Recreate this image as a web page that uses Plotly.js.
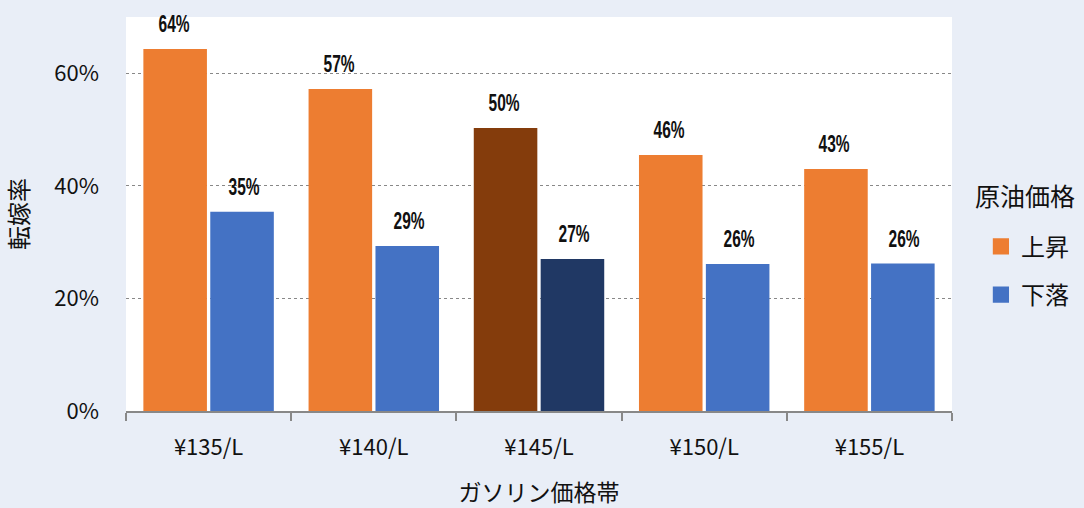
<!DOCTYPE html>
<html><head><meta charset="utf-8">
<script src="https://cdn.plot.ly/plotly-3.0.1.min.js"></script>
<style>html,body{margin:0;padding:0;background:#E9EEF7;}</style>
</head><body>
<div id="chart" style="width:1084px;height:508px;"></div>
<script>
const categories = ["¥135/L", "¥140/L", "¥145/L", "¥150/L", "¥155/L"];
const riseValues = [64.3, 57.2, 50.3, 45.5, 43.0];
const fallValues = [35.4, 29.3, 27.0, 26.1, 26.2];
const riseLabels = ["64%", "57%", "50%", "46%", "43%"];
const fallLabels = ["35%", "29%", "27%", "26%", "26%"];
const seriesNames = ["上昇", "下落"];
const legendTitle = "原油価格";
const highlightIndex = 2;

const riseColors = categories.map((c, i) => i === highlightIndex ? "#843C0C" : "#ED7D31");
const fallColors = categories.map((c, i) => i === highlightIndex ? "#203864" : "#4472C4");

const jp = '"Noto Sans CJK JP", "Noto Sans", sans-serif';
const labelFont = '"Liberation Sans", Arial, sans-serif';

const traces = [
  {type: "bar", name: seriesNames[0], x: categories, y: riseValues, legendgroup: "a",
   marker: {color: riseColors, line: {width: 0}}, hoverinfo: "skip"},
  {type: "bar", name: seriesNames[1], x: categories, y: fallValues, legendgroup: "b",
   marker: {color: fallColors, line: {width: 0}}, hoverinfo: "skip"}
];

const annotations = [];
categories.forEach((c, i) => {
  annotations.push({x: c, y: riseValues[i], xref: "x", yref: "y", text: riseLabels[i], showarrow: false,
    xshift: -35, yanchor: "bottom", yshift: 10, font: {family: labelFont, size: 24, weight: 700, color: "#111"}});
  annotations.push({x: c, y: fallValues[i], xref: "x", yref: "y", text: fallLabels[i], showarrow: false,
    xshift: 35, yanchor: "bottom", yshift: 10, font: {family: labelFont, size: 24, weight: 700, color: "#111"}});
});
annotations.push({xref: "paper", yref: "paper", x: 1.026, y: 0.548, xanchor: "left", yanchor: "middle",
  text: legendTitle, showarrow: false, font: {family: jp, size: 25, color: "#111"}});

const layout = {
  width: 1084, height: 508,
  paper_bgcolor: "#E9EEF7", plot_bgcolor: "#FFFFFF",
  margin: {l: 126, r: 132, t: 17, b: 97, autoexpand: false},
  barmode: "group", bargap: 0.19, bargroupgap: 0.05,
  font: {family: jp, size: 22, color: "#111"},
  xaxis: {
    type: "category", showgrid: false, showline: true, linecolor: "#888", linewidth: 2,
    ticks: "outside", tickson: "boundaries", ticklen: 8, tickcolor: "#888", tickwidth: 2,
    ticklabelstandoff: 16,
    tickfont: {family: jp, size: 22, color: "#111"},
    title: {text: "ガソリン価格帯", font: {family: jp, size: 23, color: "#111"}, standoff: 29}
  },
  yaxis: {
    range: [0, 70], tickvals: [0, 20, 40, 60], ticktext: ["0%", "20%", "40%", "60%"],
    showgrid: true, gridcolor: "#888", griddash: "dot", gridwidth: 1, zeroline: false, showline: false,
    ticks: "", ticklabelstandoff: 26,
    tickfont: {family: jp, size: 22, color: "#111"},
    title: {text: "転嫁率", font: {family: jp, size: 24, color: "#111"}, standoff: 21}
  },
  legend: {
    x: 1.035, xanchor: "left", y: 0.474, yanchor: "top",
    bgcolor: "rgba(0,0,0,0)", font: {family: jp, size: 24, color: "#111"},
    tracegroupgap: 14, itemwidth: 30
  },
  annotations: annotations,
  showlegend: true
};

Plotly.newPlot("chart", traces, layout, {displayModeBar: false, staticPlot: true}).then(() => {
  const gd = document.getElementById("chart");
  gd.querySelectorAll(".annotation-text").forEach(t => {
    const txt = t.textContent;
    if (/^\d+%$/.test(txt)) {
      t.setAttribute("textLength", "31");
      t.setAttribute("lengthAdjust", "spacingAndGlyphs");
    }
  });
  gd.querySelectorAll(".legendpoints path").forEach(p => {
    const tr = p.getAttribute("transform") || "";
    p.setAttribute("transform", tr + " scale(1.35)");
  });
});
</script>
</body></html>
